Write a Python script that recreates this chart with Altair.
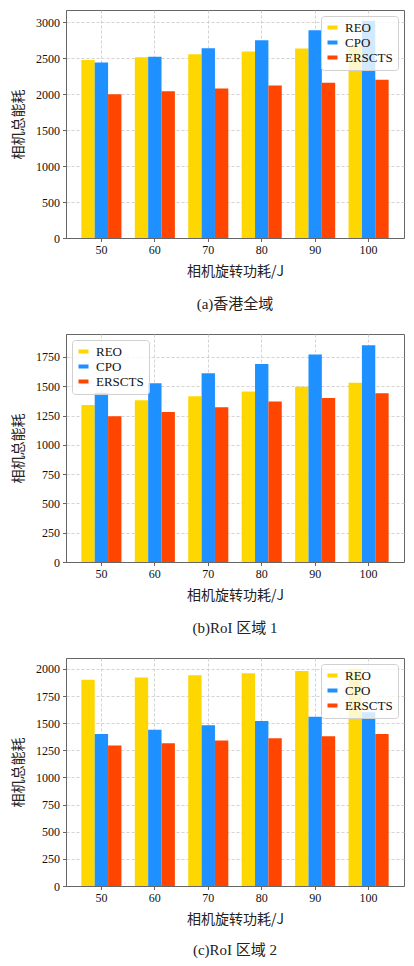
import altair as alt
import pandas as pd

categories = ["50", "60", "70", "80", "90", "100"]
series = ["REO", "CPO", "ERSCTS"]
colors = ["#FFD700", "#1E90FF", "#FF4500"]

a_reo = [2475, 2515, 2555, 2595, 2635, 2675]
a_cpo = [2440, 2520, 2640, 2750, 2890, 3020]
a_ers = [2000, 2040, 2080, 2120, 2160, 2200]

b_reo = [1340, 1380, 1415, 1455, 1495, 1530]
b_cpo = [1445, 1525, 1610, 1690, 1770, 1850]
b_ers = [1245, 1280, 1320, 1370, 1400, 1440]

c_reo = [1900, 1920, 1940, 1960, 1980, 2000]
c_cpo = [1400, 1440, 1480, 1520, 1560, 1600]
c_ers = [1295, 1315, 1340, 1360, 1380, 1400]

captions = ["(a)香港全域", "(b)RoI 区域 1", "(c)RoI 区域 2"]
y_ticks_a = [0, 500, 1000, 1500, 2000, 2500, 3000]
y_ticks_bc = [0, 250, 500, 750, 1000, 1250, 1500, 1750, 2000]

SERIF = "Liberation Serif"
MIX = "Liberation Serif, Noto Sans CJK SC"
CJK = "Noto Sans CJK SC"


def frame(reo, cpo, ers):
    rows = []
    for i, c in enumerate(categories):
        for s, vals in zip(series, [reo, cpo, ers]):
            rows.append({"power": c, "series": s, "energy": vals[i]})
    return pd.DataFrame(rows)


def panel(df, caption, ymax, ticks, legend_orient, cap_offset):
    return alt.Chart(df, title=alt.Title(
        caption, orient="bottom", font=MIX, fontSize=15, fontWeight="normal",
        offset=cap_offset, color="#222")).mark_bar().encode(
        x=alt.X("power:N", sort=categories,
                scale=alt.Scale(paddingInner=0.25, paddingOuter=0.2875),
                axis=alt.Axis(title="相机旋转功耗/J", labelAngle=0,
                              labelFont=SERIF)),
        xOffset=alt.XOffset("series:N", sort=series,
                            scale=alt.Scale(paddingInner=0, paddingOuter=0)),
        y=alt.Y("energy:Q", scale=alt.Scale(domain=[0, ymax], nice=False),
                axis=alt.Axis(title="相机总能耗", values=ticks, format="d",
                              labelFont=SERIF)),
        color=alt.Color("series:N", sort=series,
                        scale=alt.Scale(domain=series, range=colors),
                        legend=alt.Legend(title=None, orient=legend_orient, offset=6)),
    ).properties(width=338, height=228)


pa = panel(frame(a_reo, a_cpo, a_ers), captions[0], 3171, y_ticks_a, "top-right", 18)
pb = panel(frame(b_reo, b_cpo, b_ers), captions[1], 1946, y_ticks_bc, "top-left", 18)
pc = panel(frame(c_reo, c_cpo, c_ers), captions[2], 2100, y_ticks_bc, "top-right", 16)

chart = alt.vconcat(pa, pb, pc, spacing=21).properties(
    padding={"left": 3, "top": 1, "right": 0, "bottom": 0}
).configure_view(
    stroke="#666", strokeWidth=1
).configure_axis(
    labelFontSize=12, labelColor="#111",
    titleFont=CJK, titleFontSize=14, titleFontWeight="normal", titleColor="#222",
    domainColor="#666", tickColor="#666", tickSize=3.5, labelPadding=3,
    grid=True, gridColor="#c8c8c8", gridDash=[3, 2], gridWidth=0.8,
).configure_axisY(
    titlePadding=10
).configure_axisX(
    titlePadding=9
).configure_legend(
    labelFont=SERIF, labelFontSize=13, labelColor="#111",
    symbolType="M-1,-0.4H1V0.4H-1Z", symbolSize=100, symbolStrokeWidth=0,
    symbolOpacity=1, labelOffset=6, rowPadding=1,
    fillColor="rgba(255,255,255,0.8)", strokeColor="#d0d0d0",
    cornerRadius=3, padding=5,
)

chart.save("out.html", embed_options={"renderer": "svg", "actions": False})
